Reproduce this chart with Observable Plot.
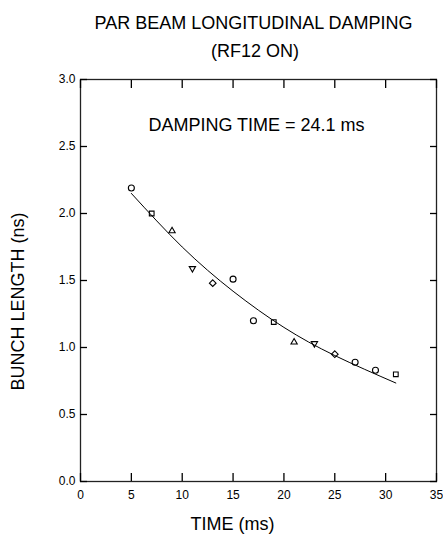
<!DOCTYPE html>
<html>
<head>
<meta charset="utf-8">
<script src="https://cdn.jsdelivr.net/npm/d3@7"></script>
<script src="https://cdn.jsdelivr.net/npm/@observablehq/plot@0.6"></script>
<style>
  html, body { margin: 0; padding: 0; background: #fff; }
</style>
</head>
<body>
<div id="chart"></div>
<script>
const titleLine1 = "PAR BEAM LONGITUDINAL DAMPING";
const titleLine2 = "(RF12 ON)";
const annotation = "DAMPING TIME = 24.1 ms";
const xLabel = "TIME (ms)";
const yLabel = "BUNCH LENGTH (ns)";

const times = [5, 7, 9, 11, 13, 15, 17, 19, 21, 23, 25, 27, 29, 31];
const lengths = [2.19, 2.00, 1.87, 1.59, 1.48, 1.51, 1.20, 1.19, 1.04, 1.03, 0.95, 0.89, 0.83, 0.80];
const markers = ["circle", "square", "triangle", "triangledown", "diamond", "circle", "circle",
                 "square", "triangle", "triangledown", "diamond", "circle", "circle", "square"];

const fitTimes = [5, 10, 15, 20, 25, 31];
const fitLengths = [2.15, 1.75, 1.42, 1.15, 0.94, 0.735];

const xTicks = [0, 5, 10, 15, 20, 25, 30, 35];
const yTicks = [0, 0.5, 1.0, 1.5, 2.0, 2.5, 3.0];

const points = times.map((t, i) => ({t, len: lengths[i], m: markers[i]}));
const fit = fitTimes.map((t, i) => ({t, len: fitLengths[i]}));

const symbolFor = {
  circle: {symbol: "circle", rotate: 0},
  square: {symbol: "square2", rotate: 0},
  triangle: {symbol: "triangle2", rotate: 0},
  triangledown: {symbol: "triangle2", rotate: 180},
  diamond: {symbol: "diamond2", rotate: 0}
};

const dotMarks = Object.keys(symbolFor).map(k =>
  Plot.dot(points.filter(d => d.m === k), {
    x: "t", y: "len",
    symbol: symbolFor[k].symbol,
    rotate: symbolFor[k].rotate,
    r: 3, stroke: "black", strokeWidth: 1.1, fill: "none"
  })
);

const font = "'Liberation Sans', Arial, sans-serif";

const chart = Plot.plot({
  width: 443,
  height: 536,
  marginLeft: 80,
  marginRight: 7,
  marginTop: 79,
  marginBottom: 55,
  style: {fontFamily: font, fontSize: "12px", color: "black", background: "white"},
  x: {domain: [0, 35]},
  y: {domain: [0, 3]},
  marks: [
    Plot.frame({stroke: "#222", strokeWidth: 1.3}),
    Plot.axisX(xTicks, {anchor: "bottom", tickSize: -8, tickPadding: 17, label: null, fontSize: 12, strokeWidth: 1.3}),
    Plot.axisX(xTicks, {anchor: "top", tickSize: -8, tickFormat: () => "", label: null, strokeWidth: 1.3}),
    Plot.axisY(yTicks, {anchor: "left", tickSize: -7, tickPadding: 12, tickFormat: d3.format(".1f"), label: null, fontSize: 12, strokeWidth: 1.3}),
    Plot.axisY(yTicks, {anchor: "right", tickSize: -7, tickFormat: () => "", label: null, strokeWidth: 1.3}),
    Plot.line(fit, {x: "t", y: "len", curve: "natural", stroke: "black", strokeWidth: 1}),
    ...dotMarks,
    Plot.text([annotation], {frameAnchor: "top", dx: -2, dy: 45.5, fontSize: 18, lineAnchor: "middle"}),
    Plot.text([titleLine1], {frameAnchor: "top", dx: -5, dy: -56.5, fontSize: 18, lineAnchor: "middle"}),
    Plot.text([titleLine2], {frameAnchor: "top", dx: -3.5, dy: -28.3, fontSize: 18, lineAnchor: "middle"}),
    Plot.text([xLabel], {frameAnchor: "bottom", dx: -26, dy: 43, fontSize: 18, lineAnchor: "middle"}),
    Plot.text([yLabel], {frameAnchor: "left", dx: -62.5, dy: 21, rotate: -90, textAnchor: "middle", fontSize: 18, lineAnchor: "middle"})
  ]
});

document.getElementById("chart").appendChild(chart);
</script>
</body>
</html>
